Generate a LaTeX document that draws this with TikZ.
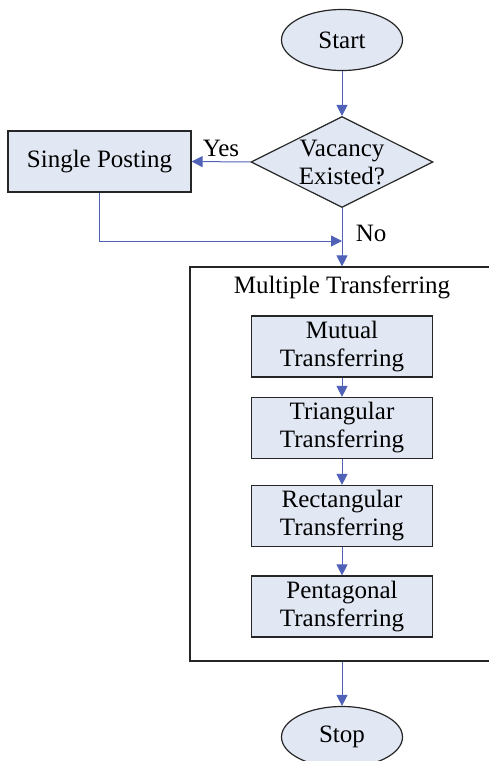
\documentclass[tikz,border=0pt]{standalone}
\usepackage{fontspec}
\setmainfont{Liberation Serif}
\usetikzlibrary{shapes.geometric,arrows.meta}
\definecolor{boxfill}{RGB}{225,231,243}
\definecolor{flowblue}{RGB}{79,98,184}
\begin{document}
\begin{tikzpicture}[x=1pt,y=-1pt,
    font=\fontsize{25}{28}\selectfont,
    term/.style={ellipse,draw=black!85,line width=1.2pt,fill=boxfill,minimum width=121pt,minimum height=61pt,inner sep=0pt},
    box/.style={rectangle,draw=black!85,line width=1.2pt,fill=boxfill,minimum width=181pt,minimum height=61pt,inner sep=0pt,align=center},
    flow/.style={draw=flowblue,line width=1pt,-{Triangle[length=11pt,width=11pt]}}]
    \useasboundingbox (0,0) rectangle (488,761);
    % outer group frame
    \node[draw=black!85,line width=1.2pt,minimum width=304pt,minimum height=394pt,inner sep=0pt] (multi) at (342,464) {};
    \node (multitxt) at (342,287) {Multiple Transferring};

    \node[term] (start) at (342,40) {Start};
    \node[diamond,draw=black!85,line width=1.2pt,fill=boxfill,minimum width=182pt,minimum height=91pt,inner sep=0pt] (vac) at (342,162) {};
    \node[align=center] (vactxt) at (342,162) {Vacancy\\Existed?};
    \node[box,minimum width=183pt] (single) at (99.5,161.5) {Single Posting};

    \node[box] (mutual) at (342,346.5) {Mutual\\Transferring};
    \node[box] (tri) at (342,428) {Triangular\\Transferring};
    \node[box] (rect) at (342,516) {Rectangular\\Transferring};
    \node[box] (pent) at (342,606.5) {Pentagonal\\Transferring};
    \node[term] (stop) at (342,737) {Stop};

    \coordinate (join) at (342,241);

    \draw[flow] (start) -- (vac);
    \draw[flow] (vac.west) -- node[above=1pt]{Yes} (single.east);
    \draw[flow] (vac.south) -- node[pos=0.43,right=10pt]{No} (multi.north);
    \draw[flow] (single.south) |- (join);
    \draw[flow] (mutual) -- (tri);
    \draw[flow] (tri) -- (rect);
    \draw[flow] (rect) -- (pent);
    \draw[flow] (multi.south) -- (stop);
\end{tikzpicture}
\end{document}
